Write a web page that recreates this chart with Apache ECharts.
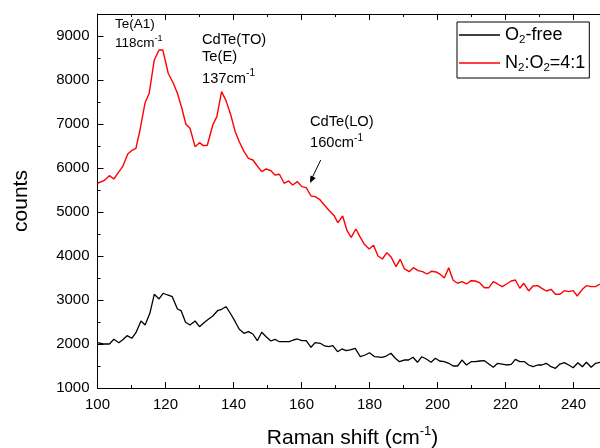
<!DOCTYPE html>
<html><head><meta charset="utf-8">
<script src="https://cdn.jsdelivr.net/npm/echarts@6/dist/echarts.min.js"></script>
<style>html,body{margin:0;padding:0;background:#fff}#c{width:600px;height:448px}</style>
</head><body><div id="c"></div>
<script>
const FONT = "'Liberation Sans', Arial, sans-serif";

const redShift = [100,101.9,103.5,104.8,106.1,107.4,108.9,110,111.3,112.5,114,115.2,116.7,118.1,119.2,120.8,122.3,123.5,124.8,126,127.2,128.7,130,131.1,132.3,133.9,135.1,136.5,137.8,139.2,140.5,141.7,143.1,144.4,145.7,147,148.3,149.6,151,152.2,153.5,154.9,156.2,157.4,158.8,160.1,161.4,162.8,164,165.3,166.7,168.2,169.6,170.7,172.1,173.4,174.6,176,177.3,178.5,179.9,181.2,182.5,183.8,185.1,186.4,187.8,189,190.3,191.7,192.9,194.3,195.6,196.9,198.2,199.6,200.8,202,203.3,204.6,205.9,207.2,208.5,209.9,211.1,212.4,213.8,215.1,216.4,217.7,219,220.3,221.7,222.9,224.2,225.4,226.8,228.1,229.5,230.7,232,233.4,234.7,236,237.3,238.6,239.9,241.1,242.6,243.8,245.2,246.5,247.8];
const redCounts = [5653,5712,5826,5750,5894,6030,6319,6394,6448,6864,7485,7698,8455,8683,8683,8153,7925,7698,7357,6994,6903,6485,6576,6508,6516,6978,7167,7735,7531,7205,6826,6598,6371,6220,6182,6046,5917,5978,5939,5842,5857,5653,5705,5614,5689,5576,5553,5364,5349,5289,5160,5030,4916,4757,4909,4575,4425,4614,4425,4266,4159,4243,4000,3932,4075,3970,3757,3925,3705,3644,3735,3667,3644,3591,3652,3637,3584,3500,3735,3450,3380,3416,3364,3439,3432,3394,3280,3280,3416,3364,3303,3364,3432,3455,3266,3380,3205,3319,3326,3266,3205,3243,3130,3130,3212,3190,3212,3091,3243,3326,3303,3303,3364];

const blackShift = [100,101.7,103.5,104.8,106.3,107.6,108.7,110.1,111.3,112.8,114,115.4,116.7,118.1,119.3,120.6,122,123.5,124.6,125.9,127.2,128.7,130,131.3,132.6,133.9,135.3,136.5,137.8,139.2,140.5,141.7,143.1,144.4,145.7,147,148.3,149.6,151,152.2,153.5,154.9,156.4,157.6,158.8,160.1,161.4,162.8,164,165.5,166.8,168,169.2,170.6,171.9,173.1,174.3,175.8,177.3,178.7,180,181.5,183.7,184.9,186.3,187.6,188.8,190.2,191.5,192.8,194.1,195.4,196.7,198.1,199.4,200.6,202,203.3,204.6,205.9,207.2,208.5,209.9,211.1,212.4,213.8,215.1,216.4,217.7,219,220.3,221.7,222.9,224.2,225.6,226.8,228.1,229.5,230.7,232,233.4,234.7,236,237.3,238.6,239.9,241.3,242.6,243.8,245.2,246.5,247.8];
const blackCounts = [2030,2000,2000,2107,2030,2107,2189,2130,2257,2523,2432,2698,3130,3023,3153,3114,3076,2796,2757,2493,2432,2523,2393,2485,2561,2636,2757,2789,2848,2682,2507,2334,2243,2280,2227,2075,2266,2166,2068,2107,2052,2052,2052,2091,2114,2075,2075,1925,2030,2016,1955,1939,1961,1825,1887,1848,1864,1902,1711,1750,1802,1711,1698,1727,1789,1675,1598,1636,1636,1698,1584,1711,1659,1584,1675,1614,1598,1561,1500,1500,1636,1523,1598,1598,1614,1620,1545,1470,1561,1545,1523,1538,1652,1598,1598,1523,1484,1523,1523,1561,1484,1448,1545,1575,1523,1461,1575,1484,1584,1470,1561,1584];

const seriesNames = ['O2-free', 'N2:O2=4:1'];
const legendRich = {'O2-free': '{n|O}{s|2}{n|-free}', 'N2:O2=4:1': '{n|N}{s|2}{n|:O}{s|2}{n|=4:1}'};

const xRange = [100, 250];
const yRange = [1000, 9500];

function zip(a, b) { return a.map((v, i) => [v, b[i]]); }

const chart = echarts.init(document.getElementById('c'), null, {renderer: 'canvas'});

const axisBase = {
  type: 'value', splitLine: {show: false},
  axisLine: {show: true, onZero: false, lineStyle: {color: '#000', width: 1}},
  axisTick: {show: true, inside: true, length: 6, lineStyle: {color: '#000', width: 1}},
  axisLabel: {show: false}
};
const noLine = {show: false, onZero: false};

function supRich(size) {
  return {
    t: {fontSize: size, fontFamily: FONT, color: '#000', lineHeight: size + 5},
    p: {fontSize: Math.round(size * 0.65), fontFamily: FONT, color: '#000', lineHeight: Math.round(size * 0.65), verticalAlign: 'top'}
  };
}

function label(text, x, y, size) {
  return {type: 'text', x: x, y: y, silent: true,
    style: {text: text, rich: supRich(size), font: size + 'px ' + FONT, fill: '#000', verticalAlign: 'middle', align: 'left'}};
}

chart.setOption({
  animation: false,
  backgroundColor: '#fff',
  grid: {left: 97.5, right: -7.5, top: 14, bottom: 60, containLabel: false, outerBoundsMode: 'none'},
  xAxis: [
    Object.assign({}, axisBase, {position: 'bottom', min: xRange[0], max: xRange[1], interval: 20,
      axisLabel: {show: true, showMaxLabel: false, fontSize: 15, fontFamily: FONT, color: '#000', margin: 9},
      name: '{t|Raman shift (cm}{p|-1}{t|)}', nameLocation: 'middle', nameGap: 37,
      nameTextStyle: {rich: {
        t: {fontSize: 21, fontFamily: FONT, color: '#000', lineHeight: 26},
        p: {fontSize: 13, fontFamily: FONT, color: '#000', lineHeight: 13, verticalAlign: 'top'}}}}),
    Object.assign({}, axisBase, {position: 'bottom', min: xRange[0], max: xRange[1], interval: 10,
      axisLine: noLine, axisTick: {show: true, inside: true, length: 3, lineStyle: {color: '#000'}}}),
    Object.assign({}, axisBase, {position: 'top', min: xRange[0], max: xRange[1], interval: 20}),
    Object.assign({}, axisBase, {position: 'top', min: xRange[0], max: xRange[1], interval: 10,
      axisLine: noLine, axisTick: {show: true, inside: true, length: 3, lineStyle: {color: '#000'}}})
  ],
  yAxis: [
    Object.assign({}, axisBase, {position: 'left', min: yRange[0], max: yRange[1], interval: 1000,
      axisLabel: {show: true, showMaxLabel: false, fontSize: 15, fontFamily: FONT, color: '#000', margin: 8,
        formatter: v => String(v)},
      name: 'counts', nameLocation: 'middle', nameGap: 66, nameRotate: 90,
      nameTextStyle: {fontSize: 21, fontFamily: FONT, color: '#000'}}),
    Object.assign({}, axisBase, {position: 'left', min: yRange[0], max: yRange[1], interval: 500,
      axisLine: noLine, axisTick: {show: true, inside: true, length: 3, lineStyle: {color: '#000'}}}),
    Object.assign({}, axisBase, {position: 'right', min: yRange[0], max: yRange[1], interval: 1000})
  ],
  legend: {
    orient: 'vertical', left: 457, top: 22, icon: 'rect', itemWidth: 41, itemHeight: 1.5,
    itemGap: 8, padding: [4, 4, 4, 2], borderColor: '#000', borderWidth: 1, backgroundColor: '#fff',
    data: seriesNames,
    formatter: name => legendRich[name],
    textStyle: {fontSize: 18, fontFamily: FONT, color: '#000', rich: {
      n: {fontSize: 18, fontFamily: FONT, color: '#000', lineHeight: 22},
      s: {fontSize: 11.5, fontFamily: FONT, color: '#000', lineHeight: 11, verticalAlign: 'bottom'}}}
  },
  series: [
    {name: seriesNames[0], type: 'line', xAxisIndex: 0, yAxisIndex: 0, data: zip(blackShift, blackCounts),
      showSymbol: false, symbol: 'none', color: '#000', lineStyle: {color: '#000', width: 1.3}},
    {name: seriesNames[1], type: 'line', xAxisIndex: 0, yAxisIndex: 0, data: zip(redShift, redCounts),
      showSymbol: false, symbol: 'none', color: '#ff0000', lineStyle: {color: '#ff0000', width: 1.4}}
  ],
  graphic: [
    label('{t|Te(A1)}', 115, 24.5, 13.5),
    label('{t|118cm}{p|-1}', 115, 43, 13.5),
    label('{t|CdTe(TO)}', 202, 39.7, 14.7),
    label('{t|Te(E)}', 202, 57, 14.7),
    label('{t|137cm}{p|-1}', 202, 78.5, 14.7),
    label('{t|CdTe(LO)}', 310, 122, 14.7),
    label('{t|160cm}{p|-1}', 310, 143, 14.7),
    {type: 'line', silent: true, shape: {x1: 320.7, y1: 160, x2: 312.5, y2: 177},
      style: {stroke: '#000', lineWidth: 1}},
    {type: 'polygon', silent: true, shape: {points: [[310, 183], [315.8, 178], [310.4, 175.4]]},
      style: {fill: '#000'}}
  ]
});
</script>
</body></html>
